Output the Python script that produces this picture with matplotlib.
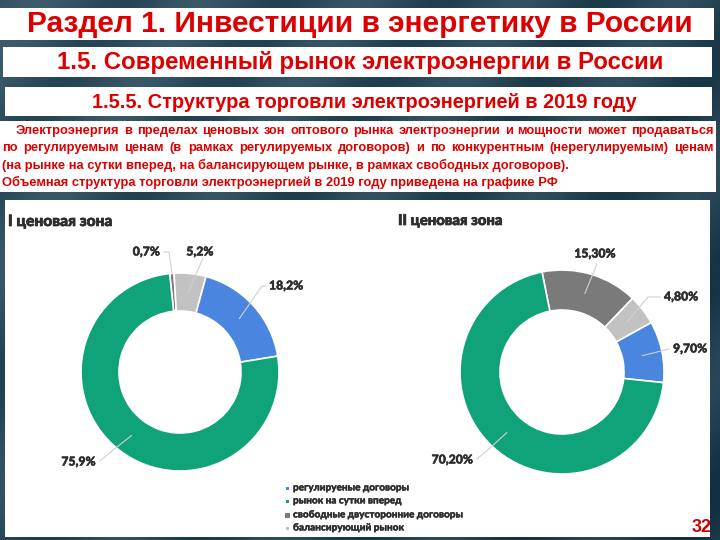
import numpy as np
import matplotlib
matplotlib.use('Agg')
import matplotlib.pyplot as plt
import matplotlib.patheffects as pe
from matplotlib import font_manager

# Данные
categories = ['регулируеные договоры', 'рынок на сутки вперед',
              'свободные двусторонние договоры', 'балансирующий рынок']
cat_colors = ['#4a86e0', '#10a37a', '#7a7a7a', '#c2c2c2']

zone1_values = [18.2, 75.9, 0.7, 5.2]
zone1_labels = ['18,2%', '75,9%', '0,7%', '5,2%']
zone2_values = [9.7, 70.2, 15.3, 4.8]
zone2_labels = ['9,70%', '70,20%', '15,30%', '4,80%']

title1 = 'Раздел 1. Инвестиции в энергетику в России'
title2 = '1.5. Современный рынок электроэнергии в России'
title3 = '1.5.5. Структура торговли электроэнергией в 2019 году'
body_lines = [
    'Электроэнергия в пределах ценовых зон оптового рынка электроэнергии и мощности может продаваться',
    'по регулируемым ценам (в рамках регулируемых договоров) и по конкурентным (нерегулируемым) ценам',
    '(на рынке на сутки вперед, на балансирующем рынке, в рамках свободных договоров).',
    'Объемная структура торговли электроэнергией в 2019 году приведена на графике РФ',
]

RED = '#dd0000'
DARK = '#2e2e2e'
names = {f.name for f in font_manager.fontManager.ttflist}
narrow = 'Liberation Sans Narrow' if 'Liberation Sans Narrow' in names else 'Liberation Sans'
heavy = 'Lato' if 'Lato' in names else 'DejaVu Sans'


def bold_fx(w):
    return [pe.withStroke(linewidth=w, foreground=DARK)]


fig = plt.figure(figsize=(7.2, 5.4), dpi=100)
ax = fig.add_axes([0, 0, 1, 1])
renderer = fig.canvas.get_renderer()


def Y(y):
    # пиксели сверху -> координаты снизу
    return 540 - y


def fit_text(x, y, s, width, **kw):
    t = ax.text(x, Y(y), s, **kw)
    w = t.get_window_extent(renderer).width
    t.set_fontsize(t.get_fontsize() * width / w)
    return t


def justify(x0, x1, y, s, **kw):
    words = s.split(' ')
    ts = [ax.text(0, Y(y), w, va='center', ha='left', **kw) for w in words]
    ws = [t.get_window_extent(renderer).width for t in ts]
    gap = (x1 - x0 - sum(ws)) / (len(words) - 1)
    x = x0
    for t, w in zip(ts, ws):
        t.set_x(x)
        x += w + gap


# фон слайда
gx = np.linspace(0, 1, 200)
gy = np.linspace(0, 1, 150)
GX, GY = np.meshgrid(gx, gy)
c1 = np.array([0.20, 0.32, 0.38])
c2 = np.array([0.11, 0.22, 0.29])
mix = (0.6 * GX + 0.4 * GY)[..., None]
streak = 0.04 * np.sin((GX * 9 + GY * 5) * np.pi)[..., None]
bg = np.clip(c1 * (1 - mix) + c2 * mix + streak, 0, 1)
ax.imshow(bg, extent=(0, 720, 0, 540), aspect='auto', zorder=0)

# белые плашки
for x0, y0, x1, y1 in [(0, 8, 714, 40), (3, 47, 712, 77), (5, 87, 712, 116),
                       (0, 121, 716, 192), (5, 200, 710, 537)]:
    ax.add_patch(plt.Rectangle((x0, Y(y1)), x1 - x0, y1 - y0,
                               facecolor='white', edgecolor='none', zorder=1))

# заголовки
fit_text(360, 24, title1, 666, ha='center', va='center', color=RED,
         family='Liberation Sans', weight='bold', fontsize=19, zorder=3)
fit_text(360, 62, title2, 608, ha='center', va='center', color=RED,
         family='Liberation Sans', weight='bold', fontsize=16, zorder=3)
fit_text(364, 102, title3, 544, ha='center', va='center', color=RED,
         family=narrow, weight='bold', fontsize=13, zorder=3)

# текст
body_kw = dict(color=RED, family=narrow, weight='bold', zorder=3)
probe = fit_text(2, 182, body_lines[2], 567, ha='left', va='center',
                 fontsize=10, **body_kw)
fs = probe.get_fontsize()
probe.set_y(Y(165))
justify(16, 714, 131, body_lines[0], fontsize=fs, **body_kw)
justify(2, 714, 148, body_lines[1], fontsize=fs, **body_kw)
ax.text(2, Y(182), body_lines[3], ha='left', va='center', fontsize=fs, **body_kw)

# кольцевые диаграммы
order = [2, 3, 0, 1]  # по часовой стрелке от верха
charts = [
    dict(vals=zone1_values, labels=zone1_labels, cx=180, cy=372, R=99, r=61,
         start=96, title='I ценовая зона', tx=8,
         leaders={2: ([(172, 274), (169, 252), (164, 252)], (160, 252, 'right')),
                  3: ([None, (203, 258)], (200, 252, 'center')),
                  0: ([None, (262, 286), (266, 286)], (269, 286, 'left')),
                  1: ([None, (112, 451), (100, 461)], (96, 462, 'right'))}),
    dict(vals=zone2_values, labels=zone2_labels, cx=562, cy=372, R=102, r=62,
         start=101.3, title='II ценовая зона', tx=398,
         leaders={2: ([None, (597, 264)], (595, 254, 'center')),
                  3: ([None, (648, 297), (660, 297)], (664, 297, 'left')),
                  0: ([None, (669, 349)], (673, 349, 'left')),
                  1: ([None, (490, 448), (477, 459)], (473, 460, 'right'))}),
]

for ch in charts:
    vals = [ch['vals'][i] for i in order]
    cols = [cat_colors[i] for i in order]
    wedges, _ = ax.pie(vals, colors=cols, startangle=ch['start'], counterclock=False,
                       radius=ch['R'], center=(ch['cx'], Y(ch['cy'])),
                       wedgeprops=dict(width=ch['R'] - ch['r'], edgecolor='white',
                                       linewidth=1.2))
    for w in wedges:
        w.set_zorder(2)
    rm = (ch['R'] + ch['r']) / 2
    for k, i in enumerate(order):
        pts, (lx, ly, ha) = ch['leaders'][i]
        w = wedges[k]
        a = np.deg2rad((w.theta1 + w.theta2) / 2)
        p0 = (ch['cx'] + rm * np.cos(a), Y(ch['cy']) + rm * np.sin(a))
        line = [p0 if p is None else (p[0], Y(p[1])) for p in pts]
        xs, ys = zip(*line)
        ax.plot(xs, ys, color='#d0d0d0', lw=0.8, zorder=3)
        ax.text(lx, Y(ly), ch['labels'][i], ha=ha, va='center', color=DARK,
                family=heavy, weight='black', fontsize=8.8, zorder=4,
                path_effects=bold_fx(0.35))
    fit_text(ch['tx'], 221, ch['title'], 104, ha='left', va='center', color=DARK,
             family=heavy, weight='black', fontsize=10, zorder=3,
             path_effects=bold_fx(0.5))

# легенда
leg_y = [488, 501, 515, 528]
leg_size = [3, 3, 5, 3]
for lab, col, y, s in zip(categories, cat_colors, leg_y, leg_size):
    ax.add_patch(plt.Rectangle((287 - s / 2, Y(y) - s / 2), s, s,
                               facecolor=col, edgecolor='none', zorder=3))
    ax.text(293, Y(y), lab, ha='left', va='center', color=DARK,
            family=heavy, weight='black', fontsize=7.2, zorder=3,
            path_effects=bold_fx(0.25))

ax.text(712, Y(527), '32', ha='right', va='center', color='#cc0000',
        family='Liberation Sans', weight='bold', fontsize=13, zorder=3)

ax.set_xlim(0, 720)
ax.set_ylim(0, 540)
ax.set_aspect('auto')
ax.axis('off')
fig.savefig('out.png', dpi=100)
